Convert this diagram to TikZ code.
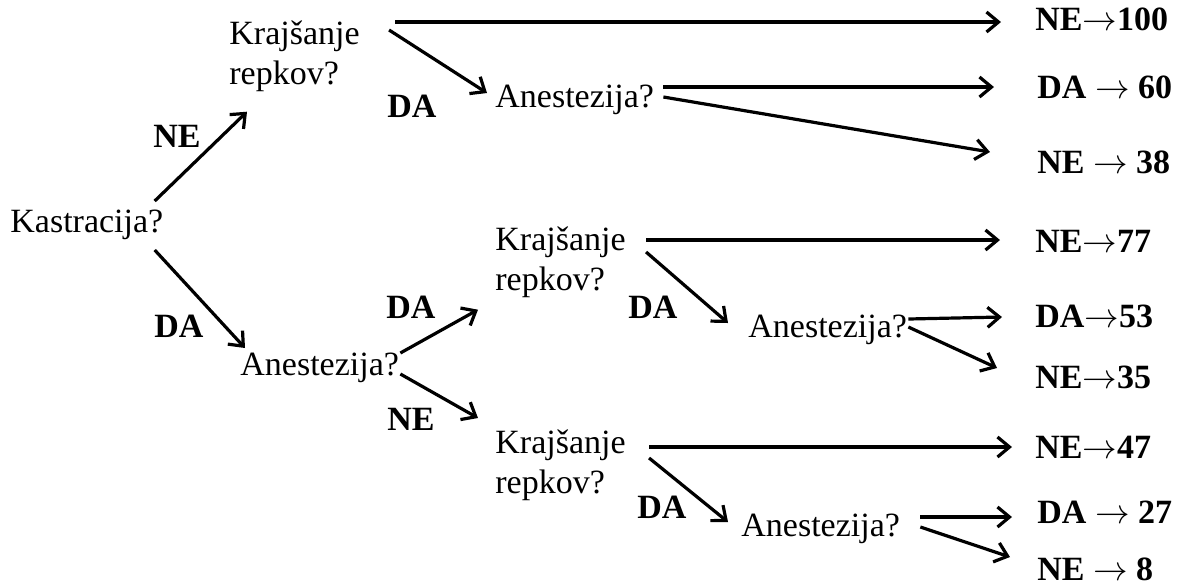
\documentclass[tikz,border=0pt]{standalone}
\usepackage{fontspec}
\setmainfont{Liberation Serif}
\usetikzlibrary{arrows.meta}
\newcommand{\pf}{$\rightarrow$}
\begin{document}
\begin{tikzpicture}[x=0.5pt,y=-0.5pt,
      vpr/.style={inner sep=0pt,anchor=base west,font=\fontsize{17}{20}\selectfont},
      vpr2/.style={vpr,anchor=north west,align=left},
      izid/.style={vpr,font=\fontsize{17}{20}\selectfont\bfseries},
      puscica/.style={line width=1.6pt,-{Straight Barb[length=6pt,width=10pt]}}]
      \useasboundingbox (0,0) rectangle (1190,586);
      \node[vpr] (kas) at (10,232) {Kastracija?};
      \node[vpr2] (kr1) at (229,20) {Krajšanje\\repkov?};
      \node[vpr] (an1) at (495,107) {Anestezija?};
      \node[vpr] (an2) at (240,375) {Anestezija?};
      \node[vpr2] (kr2) at (495,226) {Krajšanje\\repkov?};
      \node[vpr] (an3) at (748,337) {Anestezija?};
      \node[vpr2] (kr3) at (495,429) {Krajšanje\\repkov?};
      \node[vpr] (an4) at (741,536) {Anestezija?};
      \node[izid] (r1) at (1035,30) {NE\pf100};
      \node[izid] (r2) at (1037,98) {DA \pf{} 60};
      \node[izid] (r3) at (1037,173) {NE \pf{} 38};
      \node[izid] (r4) at (1035,252) {NE\pf77};
      \node[izid] (r5) at (1035,327) {DA\pf53};
      \node[izid] (r6) at (1035,388) {NE\pf35};
      \node[izid] (r7) at (1035,458) {NE\pf47};
      \node[izid] (r8) at (1037,523) {DA \pf{} 27};
      \node[izid] (r9) at (1037,580) {NE \pf{} 8};
      \node[izid] (o1) at (153,147) {NE};
      \node[izid] (o2) at (154,337) {DA};
      \node[izid] (o3) at (387,117) {DA};
      \node[izid] (o4) at (386,318) {DA};
      \node[izid] (o5) at (387,430) {NE};
      \node[izid] (o6) at (628,318) {DA};
      \node[izid] (o7) at (637,518) {DA};
      \draw[puscica] ([shift={(-9,-31)}]kas.base east) -- ([shift={(18,20)}]kr1.south west);
      \draw[puscica] ([shift={(-9,18)}]kas.base east) -- ([shift={(5,-27)}]an2.base west);
      \draw[puscica] ([shift={(35,2)}]kr1.north east) -- ([shift={(-34,-8)}]r1.base west);
      \draw[puscica] ([shift={(29,10)}]kr1.north east) -- ([shift={(-8,-14)}]an1.base west);
      \draw[puscica] ([shift={(9,-20)}]an1.base east) -- ([shift={(-43,-11)}]r2.base west);
      \draw[puscica] ([shift={(9,-10)}]an1.base east) -- ([shift={(-47,-21)}]r3.base west);
      \draw[puscica] ([shift={(1,-22)}]an2.base east) -- ([shift={(-17,12)}]kr2.south west);
      \draw[puscica] ([shift={(1,-1)}]an2.base east) -- ([shift={(-17,-11)}]kr3.north west);
      \draw[puscica] ([shift={(20,14)}]kr2.north east) -- ([shift={(-35,-12)}]r4.base west);
      \draw[puscica] ([shift={(20,26)}]kr2.north east) -- ([shift={(-20,-14)}]an3.base west);
      \draw[puscica] ([shift={(1,-18)}]an3.base east) -- ([shift={(-33,-10)}]r5.base west);
      \draw[puscica] ([shift={(1,-10)}]an3.base east) -- ([shift={(-38,-20)}]r6.base west);
      \draw[puscica] ([shift={(23,18)}]kr3.north east) -- ([shift={(-23,-11)}]r7.base west);
      \draw[puscica] ([shift={(23,29)}]kr3.north east) -- ([shift={(-13,-14)}]an4.base west);
      \draw[puscica] ([shift={(20,-19)}]an4.base east) -- ([shift={(-25,-6)}]r8.base west);
      \draw[puscica] ([shift={(20,-9)}]an4.base east) -- ([shift={(-27,-23)}]r9.base west);
    \end{tikzpicture}
\end{document}
